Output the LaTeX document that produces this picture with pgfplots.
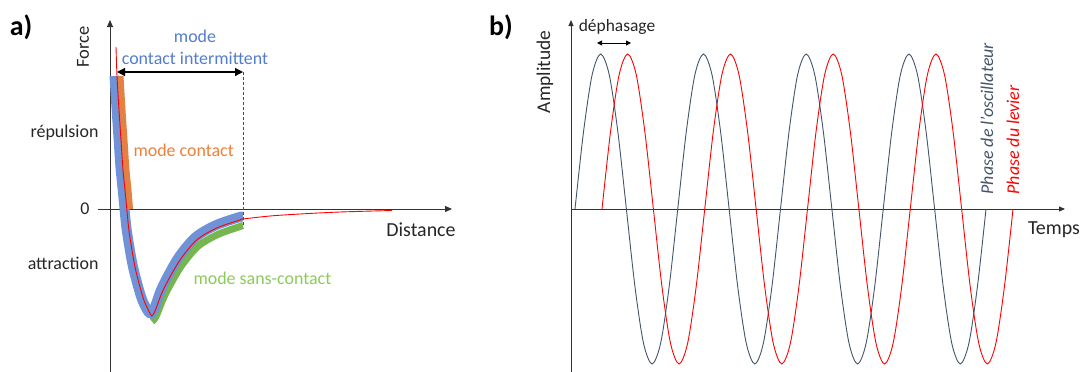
\documentclass[border=0pt]{standalone}
\usepackage{pgfplots}
\pgfplotsset{compat=1.18}
\usepackage{pgfplotstable}
\usepackage{fontspec}
\setmainfont{Carlito}
\usetikzlibrary{arrows.meta}
\definecolor{bandblue}{RGB}{112,146,214}
\definecolor{bandorange}{RGB}{228,128,66}
\definecolor{bandgreen}{RGB}{118,182,78}
\definecolor{txtblue}{RGB}{84,124,206}
\definecolor{txtorange}{RGB}{237,128,58}
\definecolor{txtgreen}{RGB}{140,202,90}
\definecolor{slate}{RGB}{68,84,106}
\definecolor{labgray}{RGB}{38,38,38}

\pgfplotstableread{
tg tr y
4.00 31.00 0
12.56 39.56 77.5
21.13 48.13 134.2
29.69 56.69 155
38.25 65.25 134.2
46.81 73.81 77.5
55.38 82.38 0
63.94 90.94 -77.5
72.50 99.50 -134.2
81.06 108.06 -155
89.63 116.63 -134.2
98.19 125.19 -77.5
106.75 133.75 0
115.31 142.31 77.5
123.88 150.88 134.2
132.44 159.44 155
141.00 168.00 134.2
149.56 176.56 77.5
158.13 185.13 0
166.69 193.69 -77.5
175.25 202.25 -134.2
183.81 210.81 -155
192.38 219.38 -134.2
200.94 227.94 -77.5
209.50 236.50 0
218.06 245.06 77.5
226.63 253.63 134.2
235.19 262.19 155
243.75 270.75 134.2
252.31 279.31 77.5
260.88 287.88 0
269.44 296.44 -77.5
278.00 305.00 -134.2
286.56 313.56 -155
295.13 322.13 -134.2
303.69 330.69 -77.5
312.25 339.25 0
320.81 347.81 77.5
329.38 356.38 134.2
337.94 364.94 155
346.50 373.50 134.2
355.06 382.06 77.5
363.63 390.63 0
372.19 399.19 -77.5
380.75 407.75 -134.2
389.31 416.31 -155
397.88 424.88 -134.2
406.44 433.44 -77.5
415.00 442.00 0
}\oscdata

\begin{document}
\begin{tikzpicture}
\useasboundingbox (0,0) rectangle (1084bp,-372bp);
% ---------------- panel a ----------------
\begin{axis}[at={(98bp,-20bp)}, anchor=north west, scale only axis,
  width=354bp, height=352bp, xmin=-12, xmax=342, ymin=-163, ymax=189,
  enlargelimits=false, axis lines=middle, xtick=\empty, ytick=\empty, clip=false,
  axis line style={line width=0.9bp, black!80, -{Triangle[length=7bp,width=6bp]}}]
\addplot[bandgreen, line width=7bp, smooth, tension=0.5] coordinates {
(42,-112.5) (44.5,-110) (47.5,-104) (52,-92.5) (57.7,-80.5) (71,-57.5) (87.7,-37.5) (107.7,-25.5) (130,-17.5) (133,-16.5)};
\addplot[bandblue, line width=10bp, smooth, tension=0.5] coordinates {
(4.5,133) (6.5,101.5) (8.5,71.5) (10.5,41.5) (12.5,21.5) (14.3,2.5) (16.8,-21.5) (22.5,-55.5) (29.2,-81.5)
(32.5,-91.5) (35.8,-98.5) (38.5,-103) (41,-104.5) (43.5,-101.5) (46,-95) (50,-83.5) (55.5,-71.5)
(68.5,-48.5) (85.2,-28.5) (105.2,-16.5) (128,-8.5) (133,-7.5)};
\addplot[bandorange, line width=6bp, smooth, tension=0.5] coordinates {
(10.5,133) (12.5,99) (14.5,69) (16.5,39) (18.5,19) (20,0)};
\addplot[red, line width=0.9bp, smooth, tension=0.5] coordinates {
(6,162) (7,133) (9,99) (11,69) (13,39) (15,19) (16.8,0) (19.3,-24) (25,-58) (31.7,-84) (35,-94) (38.3,-101)
(41.7,-107) (44,-104) (46.7,-97.7) (51,-86) (56.7,-74) (70,-51) (86.7,-31) (106.7,-19) (130,-11) (133,-10)
(160,-7) (190,-5) (230,-3) (282,-1.5)};
\draw[black!70, line width=1bp, dash pattern=on 3bp off 2bp] (axis cs:133,137) -- (axis cs:133,-17);
\draw[black, line width=1.2bp, {Triangle[length=8bp,width=8bp]}-{Triangle[length=8bp,width=8bp]}] (axis cs:7,137) -- (axis cs:133,137);
\node[txtblue, font=\fontsize{18}{20}\selectfont] at (axis cs:85,173) {mode};
\node[txtblue, font=\fontsize{18}{20}\selectfont] at (axis cs:85,151) {contact intermittent};
\node[txtorange, font=\fontsize{18}{20}\selectfont, anchor=west] at (axis cs:20,59) {mode contact};
\node[txtgreen, font=\fontsize{18}{20}\selectfont, anchor=west] at (axis cs:80,-69) {mode sans-contact};
\node[labgray, font=\fontsize{18}{20}\selectfont, anchor=east] at (axis cs:-8,76) {répulsion};
\node[labgray, font=\fontsize{18}{20}\selectfont, anchor=east] at (axis cs:-17,0) {0};
\node[labgray, font=\fontsize{18}{20}\selectfont, anchor=east] at (axis cs:-8,-54) {attraction};
\node[labgray, font=\fontsize{18.5}{20}\selectfont, rotate=90] at (axis cs:-27,162) {Force};
\node[labgray, font=\fontsize{20}{22}\selectfont] at (axis cs:311,-21) {Distance};
\node[black, font=\fontsize{28}{30}\selectfont\bfseries] at (axis cs:-89,182) {a)};
\end{axis}
% ---------------- panel b ----------------
\begin{axis}[at={(571bp,-20bp)}, anchor=north west, scale only axis,
  width=494bp, height=352bp, xmin=0, xmax=494, ymin=-163, ymax=189,
  enlargelimits=false, axis lines=middle, xtick=\empty, ytick=\empty, clip=false,
  axis line style={line width=0.9bp, black!80, -{Triangle[length=6bp,width=5bp]}}]
\addplot[slate, line width=0.9bp, smooth] table[x=tg, y=y] {\oscdata};
\addplot[red, line width=0.9bp, smooth] table[x=tr, y=y] {\oscdata};
\draw[black, line width=0.9bp, {Triangle[length=5bp,width=5bp]}-{Triangle[length=5bp,width=5bp]}] (axis cs:26,166) -- (axis cs:60,166);
\node[labgray, font=\fontsize{17.5}{20}\selectfont] at (axis cs:46,182) {déphasage};
\node[labgray, font=\fontsize{19.5}{22}\selectfont, rotate=90] at (axis cs:-26,137) {Amplitude};
\node[labgray, font=\fontsize{20}{22}\selectfont] at (axis cs:483,-21) {Temps};
\node[black, font=\fontsize{28}{30}\selectfont\bfseries] at (axis cs:-70,182) {b)};
\node[slate, font=\fontsize{18}{20}\selectfont\itshape, rotate=90, anchor=base west] at (axis cs:422,11) {Phase de l’oscillateur};
\node[red, font=\fontsize{18}{20}\selectfont\itshape, rotate=90, anchor=base west] at (axis cs:448,11) {Phase du levier};
\end{axis}
\end{tikzpicture}
\end{document}
